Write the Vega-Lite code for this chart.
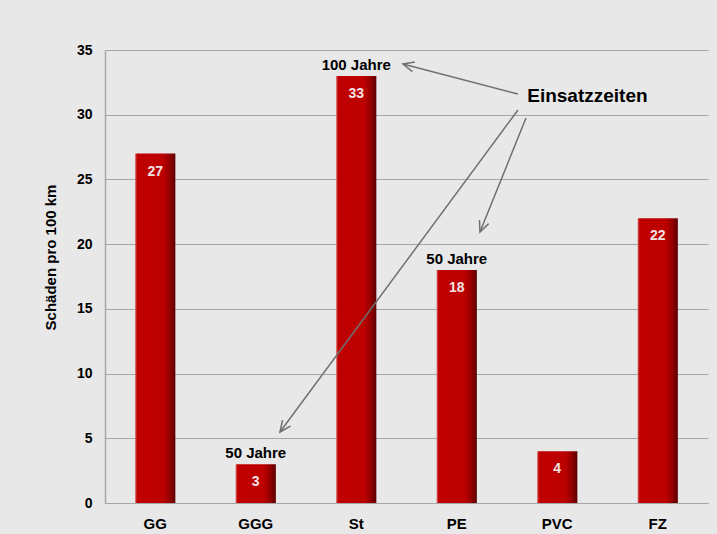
{
  "$schema": "https://vega.github.io/schema/vega-lite/v6.json",
  "autosize": {"type": "none"},
  "width": 603,
  "height": 453,
  "padding": {"left": 105, "top": 50, "right": 9, "bottom": 31},
  "background": "#e8e8e8",
  "config": {
    "view": {"stroke": null},
    "font": "Liberation Sans",
    "axis": {"labelFont": "Liberation Sans", "titleFont": "Liberation Sans"}
  },
  "datasets": {
    "bars": [
      {"cat": "GG", "value": 27, "note": ""},
      {"cat": "GGG", "value": 3, "note": "50 Jahre"},
      {"cat": "St", "value": 33, "note": "100 Jahre"},
      {"cat": "PE", "value": 18, "note": "50 Jahre"},
      {"cat": "PVC", "value": 4, "note": ""},
      {"cat": "FZ", "value": 22, "note": ""}
    ],
    "arrows": [
      {"id": 1, "x0": 4.109, "y0": 31.6, "x1": 2.965, "y1": 33.92},
      {"id": 2, "x0": 4.109, "y0": 30.36, "x1": 1.741, "y1": 5.49},
      {"id": 3, "x0": 4.189, "y0": 29.74, "x1": 3.731, "y1": 20.94}
    ],
    "callout": [
      {"text": "Einsatzzeiten", "lx": 4.8, "ly": 31.0}
    ]
  },
  "layer": [
    {
      "data": {"name": "bars"},
      "layer": [
        {
          "mark": {
            "type": "bar",
            "color": {
              "gradient": "linear", "x1": 0, "x2": 1, "y1": 0, "y2": 0,
              "stops": [
                {"offset": 0, "color": "#d86a6a"},
                {"offset": 0.05, "color": "#c00000"},
                {"offset": 0.7, "color": "#bc0000"},
                {"offset": 0.86, "color": "#940000"},
                {"offset": 1, "color": "#5c0000"}
              ]
            }
          },
          "encoding": {
            "x": {
              "field": "cat", "type": "nominal", "sort": null,
              "scale": {"paddingInner": 0.6, "paddingOuter": 0.3},
              "axis": {
                "title": null, "labelAngle": 0, "labelFontSize": 15, "labelFontWeight": "bold",
                "labelColor": "#000000", "tickSize": 0, "labelPadding": 13,
                "domainColor": "#a6a6a6", "domainWidth": 1, "grid": false
              }
            },
            "y": {
              "field": "value", "type": "quantitative",
              "scale": {"domain": [0, 35], "nice": false},
              "axis": {
                "title": "Schäden pro 100 km", "titleFontSize": 15, "titleFontWeight": "bold",
                "titleColor": "#000000", "titlePadding": 18, "titleY": 207,
                "values": [0, 5, 10, 15, 20, 25, 30, 35],
                "labelFontSize": 14, "labelFontWeight": "bold", "labelColor": "#000000",
                "tickSize": 0, "labelPadding": 13,
                "domainColor": "#a6a6a6", "domainWidth": 1.5,
                "gridColor": "#a6a6a6", "gridWidth": 1
              }
            }
          }
        },
        {
          "mark": {"type": "text", "baseline": "alphabetic", "dy": 22, "fontSize": 14, "fontWeight": "bold", "color": "#f4e2e2"},
          "encoding": {
            "x": {"field": "cat", "type": "nominal", "sort": null},
            "y": {"field": "value", "type": "quantitative"},
            "text": {"field": "value", "type": "quantitative"}
          }
        },
        {
          "mark": {"type": "text", "baseline": "alphabetic", "dy": -6, "fontSize": 15, "fontWeight": "bold", "color": "#000000"},
          "encoding": {
            "x": {"field": "cat", "type": "nominal", "sort": null},
            "y": {"field": "value", "type": "quantitative"},
            "text": {"field": "note", "type": "nominal"}
          }
        }
      ]
    },
    {
      "data": {"name": "arrows"},
      "layer": [
        {
          "mark": {"type": "rule", "color": "#707070", "strokeWidth": 1.5},
          "encoding": {
            "x": {"field": "x0", "type": "quantitative", "scale": {"domain": [0, 6], "nice": false, "zero": false}, "axis": null},
            "y": {"field": "y0", "type": "quantitative"},
            "x2": {"field": "x1"},
            "y2": {"field": "y1"}
          }
        },
        {
          "transform": [{"filter": "datum.id == 1"}],
          "mark": {"type": "point", "shape": "M -0.45 1 L 0 0 L 0.45 1", "filled": false, "angle": 284.6, "size": 484, "stroke": "#707070", "strokeWidth": 1.5, "opacity": 1},
          "encoding": {
            "x": {"field": "x1", "type": "quantitative"},
            "y": {"field": "y1", "type": "quantitative"}
          }
        },
        {
          "transform": [{"filter": "datum.id == 2"}],
          "mark": {"type": "point", "shape": "M -0.45 1 L 0 0 L 0.45 1", "filled": false, "angle": 216.5, "size": 484, "stroke": "#707070", "strokeWidth": 1.5, "opacity": 1},
          "encoding": {
            "x": {"field": "x1", "type": "quantitative"},
            "y": {"field": "y1", "type": "quantitative"}
          }
        },
        {
          "transform": [{"filter": "datum.id == 3"}],
          "mark": {"type": "point", "shape": "M -0.45 1 L 0 0 L 0.45 1", "filled": false, "angle": 202, "size": 484, "stroke": "#707070", "strokeWidth": 1.5, "opacity": 1},
          "encoding": {
            "x": {"field": "x1", "type": "quantitative"},
            "y": {"field": "y1", "type": "quantitative"}
          }
        }
      ]
    },
    {
      "data": {"name": "callout"},
      "mark": {"type": "text", "baseline": "alphabetic", "align": "center", "fontSize": 19, "fontWeight": "bold", "color": "#000000"},
      "encoding": {
        "x": {"field": "lx", "type": "quantitative", "scale": {"domain": [0, 6], "nice": false, "zero": false}, "axis": null},
        "y": {"field": "ly", "type": "quantitative"},
        "text": {"field": "text", "type": "nominal"}
      }
    }
  ],
  "resolve": {"scale": {"x": "independent"}}
}
